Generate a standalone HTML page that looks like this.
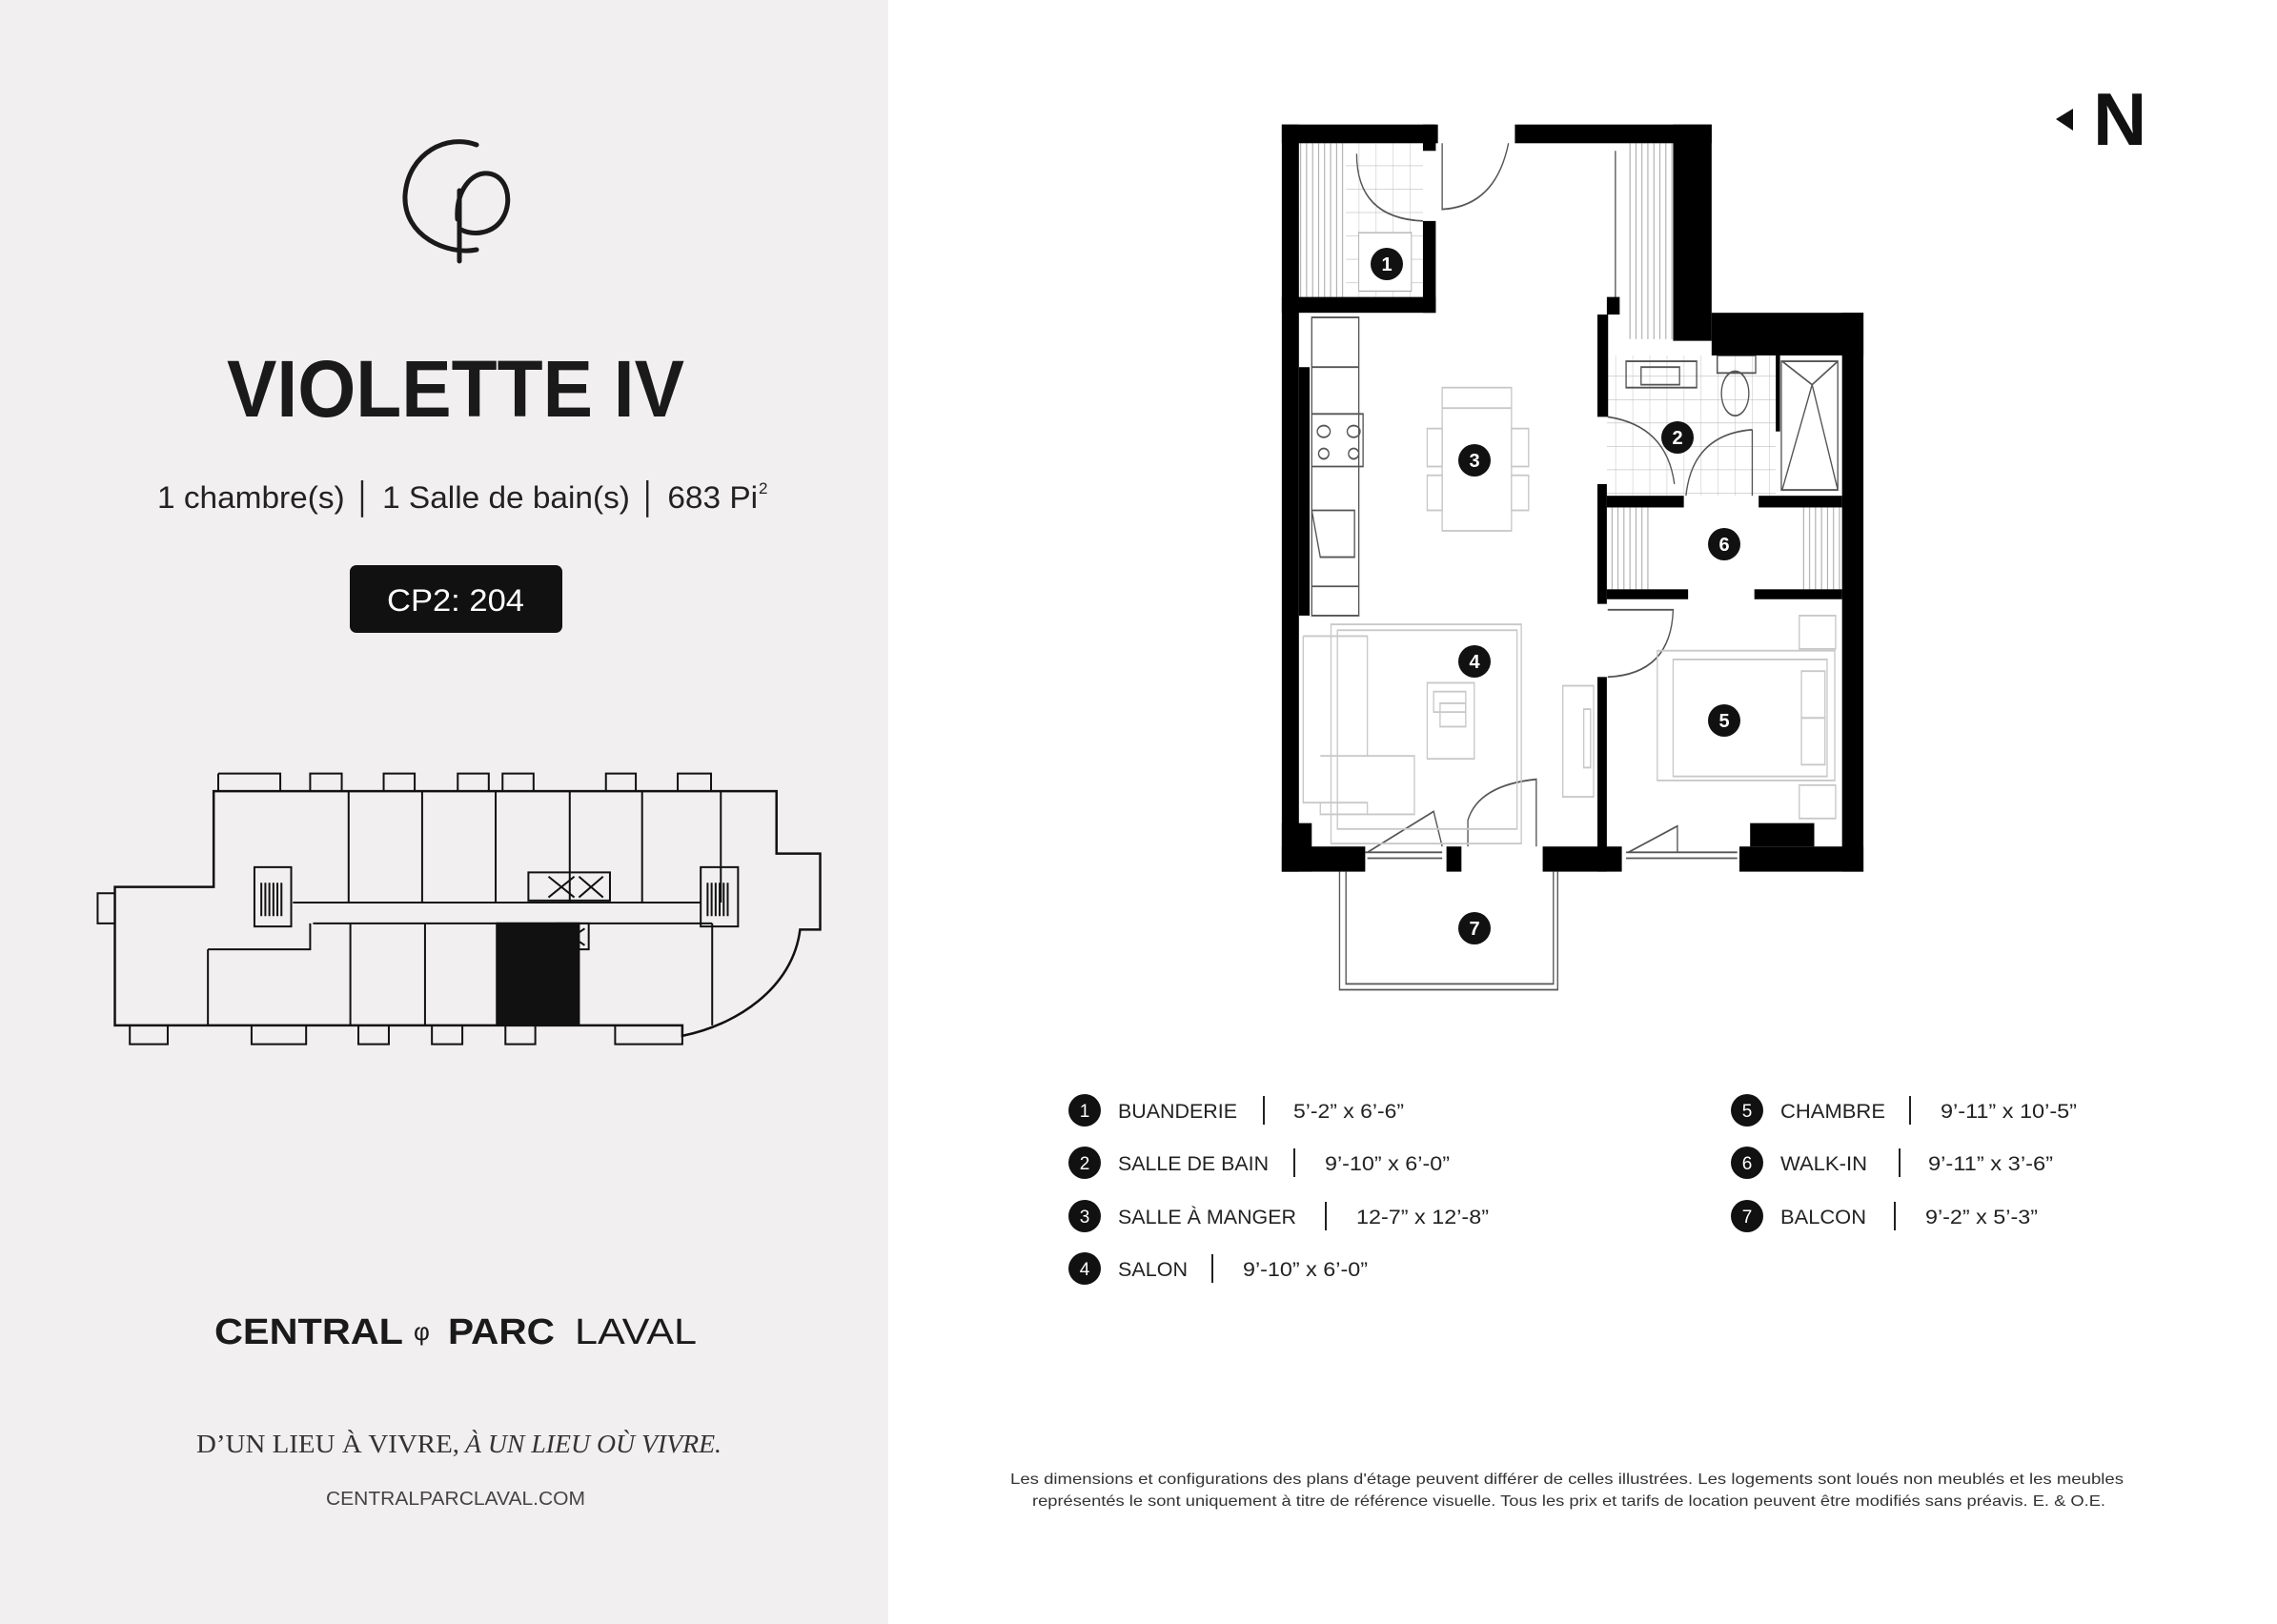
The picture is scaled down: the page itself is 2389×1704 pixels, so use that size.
<!DOCTYPE html>
<html><head><meta charset="utf-8"><style>
html,body{margin:0;padding:0;background:#fff}
svg{display:block}
</style></head><body>
<svg width="2389" height="1704" viewBox="0 0 2389 1704" xmlns="http://www.w3.org/2000/svg" font-family="Liberation Sans, sans-serif">
<defs>
<pattern id="hv" width="14" height="10" patternUnits="userSpaceOnUse"><rect width="14" height="10" fill="#fff"/><line x1="4" y1="0" x2="4" y2="10" stroke="#999" stroke-width="2"/></pattern>
<pattern id="hh" width="10" height="12" patternUnits="userSpaceOnUse"><rect width="10" height="12" fill="#fff"/><line x1="0" y1="4" x2="10" y2="4" stroke="#999" stroke-width="2"/></pattern>
<pattern id="tile" width="40" height="40" patternUnits="userSpaceOnUse"><rect width="40" height="40" fill="#fff"/><path d="M0 0H40M0 0V40" stroke="#bbb" stroke-width="2"/></pattern>
</defs>
<rect width="2389" height="1704" fill="#fff"/>
<rect width="932" height="1704" fill="#f1eff0"/>

<!-- logo -->
<g fill="none" stroke="#1a1a1a" stroke-width="5" stroke-linecap="round">
<path d="M500 152 C470 140 428 160 425 205 C423 248 470 268 500 262"/>
<path d="M480 230 C478 200 495 180 512 182 C532 184 538 210 528 228 C518 246 495 248 482 240"/>
<line x1="482" y1="200" x2="482" y2="274"/>
</g>

<text x="478" y="437" text-anchor="middle" font-size="84" font-weight="bold" fill="#1a1a1a" textLength="480" lengthAdjust="spacingAndGlyphs">VIOLETTE IV</text>
<text x="165" y="533" font-size="32" fill="#222" textLength="630" lengthAdjust="spacingAndGlyphs">1 chambre(s) │ 1 Salle de bain(s) │ 683 Pi</text>
<text x="796" y="518" font-size="17" fill="#222">2</text>
<rect x="367" y="593" width="223" height="71" rx="7" fill="#111"/>
<text x="478" y="641" text-anchor="middle" font-size="32" fill="#fff" textLength="144" lengthAdjust="spacingAndGlyphs">CP2: 204</text>

<!-- key plan -->
<g transform="scale(0.6026,1.0923)" fill="none" stroke="#111" stroke-width="2" vector-effect="non-scaling-stroke">
<g vector-effect="non-scaling-stroke">
<path vector-effect="non-scaling-stroke" d="M372 760 H1352 V820 H1428 V893 H1393 C1380 950 1280 985 1188 995 V985 H362 V985 H200 V852 H372 Z" stroke-width="2.5"/>
<path vector-effect="non-scaling-stroke" d="M170 858 H200 V887 H170 Z"/>
<path vector-effect="non-scaling-stroke" d="M380 743H488V760M380 760V743M540 760V743H595V760M668 760V743H722V760M797 760V743H851V760M875 760V743H929V760M1055 760V743H1107V760M1180 760V743H1238V760"/>
<path vector-effect="non-scaling-stroke" d="M226 985V1003H292V985M438 985V1003H533V985M624 985V1003H677V985M752 985V1003H805V985M880 985V1003H932V985M1071 985V1003H1188V995"/>
<path vector-effect="non-scaling-stroke" d="M510 867H1220M545 887H1240M607 760V867M735 760V867M863 760V867M992 760V867M1118 760V867M1255 760V867M362 912V985M362 912H540V887M610 887V985M740 887V985M865 887V985M1008 887V985M1240 887V985"/>
<path vector-effect="non-scaling-stroke" d="M443 833H507V890H443ZM1220 833H1285V890H1220ZM920 838H1062V865H920ZM968 887H1025V912H968Z"/>
<path vector-effect="non-scaling-stroke" d="M455 848V880M462 848V880M469 848V880M476 848V880M483 848V880M490 848V880M1232 848V880M1239 848V880M1246 848V880M1253 848V880M1260 848V880M1267 848V880M955 842L1000 862M955 862L1000 842M1008 842L1050 862M1008 862L1050 842M975 892L1018 908M975 908L1018 892"/>
</g>
<rect x="865" y="887" width="143" height="98" fill="#111" stroke="#111"/>
</g>

<text x="225" y="1410" font-size="38" font-weight="bold" fill="#1a1a1a" textLength="198" lengthAdjust="spacingAndGlyphs">CENTRAL</text>
<text x="434" y="1406" font-size="26" fill="#1a1a1a">φ</text>
<text x="470" y="1410" font-size="38" font-weight="bold" fill="#1a1a1a" textLength="112" lengthAdjust="spacingAndGlyphs">PARC</text>
<text x="603" y="1410" font-size="38" fill="#1a1a1a" textLength="128" lengthAdjust="spacingAndGlyphs">LAVAL</text>
<text x="206" y="1524" font-family="Liberation Serif, serif" font-size="27" fill="#333" textLength="276" lengthAdjust="spacingAndGlyphs">D’UN LIEU À VIVRE,</text>
<text x="488" y="1524" font-family="Liberation Serif, serif" font-style="italic" font-size="27" fill="#333" textLength="269" lengthAdjust="spacingAndGlyphs">À UN LIEU OÙ VIVRE.</text>
<text x="478" y="1579" text-anchor="middle" font-size="20" fill="#444" textLength="272" lengthAdjust="spacingAndGlyphs">CENTRALPARCLAVAL.COM</text>

<!-- North -->
<polygon points="2175,114 2175,137 2157,125" fill="#111"/>
<text x="2196" y="152" font-size="78" font-weight="bold" fill="#111">N</text>

<!-- floor plan -->
<g transform="translate(1300,100) scale(0.4487,0.6134)">
<rect x="140" y="82" width="290" height="263" fill="url(#tile)"/>
<rect x="140" y="82" width="110" height="263" fill="url(#hv)"/>
<rect x="280" y="235" width="123" height="100" fill="#fff" stroke="#aaa" stroke-width="2"/>
<rect x="905" y="82" width="110" height="335" fill="url(#hv)"/>
<rect x="860" y="445" width="395" height="240" fill="url(#tile)"/>
<rect x="865" y="705" width="95" height="140" fill="url(#hv)"/>
<rect x="1310" y="705" width="100" height="140" fill="url(#hv)"/>
<g fill="none" stroke="#555" stroke-width="3">
<path d="M275 100 Q275 210 430 215"/>
<path d="M475 82V195Q600 190 630 82"/>
<path d="M880 95V365"/>
<path d="M1268 455H1400V675H1268ZM1270 455L1340 495L1400 455M1340 495L1400 675M1340 495L1270 675"/>
<path d="M905 455H1070V500H905ZM940 465H1030V495H940Z"/>
<ellipse cx="1160" cy="510" rx="32" ry="38"/><rect x="1118" y="445" width="90" height="30"/>
<path d="M862 550Q1000 565 1018 665M1200 572V685M1200 572Q1060 580 1045 685"/>
<path d="M862 880H1015Q1010 990 862 995"/>
<path d="M170 380H280V465H170ZM170 465H280V890H170ZM170 545H290V635H170ZM170 710H270V790H190ZM170 840H280V890"/>
<ellipse cx="198" cy="575" rx="15" ry="10"/><ellipse cx="268" cy="575" rx="15" ry="10"/><ellipse cx="198" cy="613" rx="12" ry="9"/><ellipse cx="268" cy="613" rx="12" ry="9"/>
<path d="M295 1295H475M300 1305H475M300 1295L455 1225L475 1285M905 1295H1165M905 1305H1165M910 1295L1025 1250V1295"/>
<path d="M535 1285V1240Q560 1180 695 1170V1285"/>
<path d="M235 1328V1530H745V1328M250 1328V1520H735V1328"/>
</g>
<g fill="none" stroke="#c8c8c8" stroke-width="3">
<rect x="475" y="500" width="162" height="245"/><path d="M475 535H637"/>
<rect x="440" y="570" width="35" height="65"/><rect x="440" y="650" width="35" height="60"/><rect x="637" y="570" width="40" height="65"/><rect x="637" y="650" width="40" height="60"/>
<rect x="215" y="905" width="445" height="375"/><rect x="230" y="915" width="420" height="340"/>
<path d="M150 925H300V1130H410V1230H190V1210H300V1230M150 925V1210H190M190 1130H300"/>
<rect x="440" y="1005" width="110" height="130"/><rect x="455" y="1020" width="75" height="35"/><rect x="470" y="1040" width="60" height="40"/>
<rect x="757" y="1010" width="72" height="190"/><rect x="806" y="1050" width="16" height="100"/>
<rect x="978" y="950" width="415" height="222"/><rect x="1015" y="965" width="360" height="200"/>
<rect x="1310" y="890" width="85" height="57"/><rect x="1310" y="1180" width="85" height="57"/>
<rect x="1315" y="985" width="55" height="80"/><rect x="1315" y="1065" width="55" height="80"/>
</g>
<g fill="#000">
<rect x="100" y="50" width="365" height="32"/>
<rect x="645" y="50" width="460" height="32"/>
<rect x="100" y="50" width="40" height="1278"/>
<rect x="1015" y="50" width="90" height="370"/>
<rect x="860" y="345" width="30" height="30"/>
<rect x="838" y="375" width="25" height="175"/>
<rect x="1105" y="372" width="355" height="73"/>
<rect x="1410" y="372" width="50" height="956"/>
<rect x="100" y="1285" width="195" height="43"/>
<rect x="485" y="1285" width="35" height="43"/>
<rect x="710" y="1285" width="185" height="43"/>
<rect x="1170" y="1285" width="290" height="43"/>
<rect x="100" y="1245" width="70" height="83"/>
<rect x="1195" y="1245" width="150" height="40"/>
<rect x="100" y="345" width="360" height="27"/>
<rect x="430" y="50" width="30" height="45"/>
<rect x="430" y="215" width="30" height="157"/>
<rect x="140" y="465" width="25" height="425"/>
<rect x="838" y="665" width="22" height="205"/>
<rect x="838" y="995" width="22" height="333"/>
<rect x="860" y="685" width="180" height="20"/>
<rect x="1215" y="685" width="195" height="20"/>
<rect x="860" y="845" width="190" height="17"/>
<rect x="1205" y="845" width="205" height="17"/>
<rect x="1255" y="445" width="10" height="130"/>
</g>
</g>

<!-- room numbers -->
<g font-size="20" font-weight="bold" fill="#fff" text-anchor="middle">
<circle cx="1455" cy="277" r="17" fill="#111"/><text x="1455" y="284">1</text>
<circle cx="1760" cy="459" r="17" fill="#111"/><text x="1760" y="466">2</text>
<circle cx="1547" cy="483" r="17" fill="#111"/><text x="1547" y="490">3</text>
<circle cx="1547" cy="694" r="17" fill="#111"/><text x="1547" y="701">4</text>
<circle cx="1809" cy="756" r="17" fill="#111"/><text x="1809" y="763">5</text>
<circle cx="1809" cy="571" r="17" fill="#111"/><text x="1809" y="578">6</text>
<circle cx="1547" cy="974" r="17" fill="#111"/><text x="1547" y="981">7</text>
</g>

<!-- legend -->
<g font-size="21" fill="#222">
<g fill="#111"><circle cx="1138" cy="1165" r="17"/><circle cx="1138" cy="1220" r="17"/><circle cx="1138" cy="1276" r="17"/><circle cx="1138" cy="1331" r="17"/><circle cx="1833" cy="1165" r="17"/><circle cx="1833" cy="1220" r="17"/><circle cx="1833" cy="1276" r="17"/></g>
<g fill="#fff" text-anchor="middle" font-size="19"><text x="1138" y="1172">1</text><text x="1138" y="1227">2</text><text x="1138" y="1283">3</text><text x="1138" y="1338">4</text><text x="1833" y="1172">5</text><text x="1833" y="1227">6</text><text x="1833" y="1283">7</text></g>
<text x="1173" y="1173" textLength="125" lengthAdjust="spacingAndGlyphs">BUANDERIE</text>
<text x="1173" y="1228" textLength="158" lengthAdjust="spacingAndGlyphs">SALLE DE BAIN</text>
<text x="1173" y="1284" textLength="187" lengthAdjust="spacingAndGlyphs">SALLE À MANGER</text>
<text x="1173" y="1339" textLength="73" lengthAdjust="spacingAndGlyphs">SALON</text>
<text x="1868" y="1173" textLength="110" lengthAdjust="spacingAndGlyphs">CHAMBRE</text>
<text x="1868" y="1228" textLength="91" lengthAdjust="spacingAndGlyphs">WALK-IN</text>
<text x="1868" y="1284" textLength="90" lengthAdjust="spacingAndGlyphs">BALCON</text>
<text x="1357" y="1173" textLength="116" lengthAdjust="spacingAndGlyphs">5’-2” x 6’-6”</text>
<text x="1390" y="1228" textLength="131" lengthAdjust="spacingAndGlyphs">9’-10” x 6’-0”</text>
<text x="1423" y="1284" textLength="139" lengthAdjust="spacingAndGlyphs">12-7” x 12’-8”</text>
<text x="1304" y="1339" textLength="131" lengthAdjust="spacingAndGlyphs">9’-10” x 6’-0”</text>
<text x="2036" y="1173" textLength="143" lengthAdjust="spacingAndGlyphs">9’-11” x 10’-5”</text>
<text x="2023" y="1228" textLength="131" lengthAdjust="spacingAndGlyphs">9’-11” x 3’-6”</text>
<text x="2020" y="1284" textLength="118" lengthAdjust="spacingAndGlyphs">9’-2” x 5’-3”</text>
<g stroke="#222" stroke-width="2">
<line x1="1326" y1="1150" x2="1326" y2="1180"/><line x1="1358" y1="1205" x2="1358" y2="1235"/><line x1="1391" y1="1261" x2="1391" y2="1291"/><line x1="1272" y1="1316" x2="1272" y2="1346"/>
<line x1="2004" y1="1150" x2="2004" y2="1180"/><line x1="1993" y1="1205" x2="1993" y2="1235"/><line x1="1988" y1="1261" x2="1988" y2="1291"/>
</g>
</g>

<g font-size="16" fill="#333" text-anchor="middle">
<text x="1644" y="1557" textLength="1168" lengthAdjust="spacingAndGlyphs">Les dimensions et configurations des plans d'étage peuvent différer de celles illustrées. Les logements sont loués non meublés et les meubles</text>
<text x="1646" y="1580" textLength="1126" lengthAdjust="spacingAndGlyphs">représentés le sont uniquement à titre de référence visuelle. Tous les prix et tarifs de location peuvent être modifiés sans préavis. E. &amp; O.E.</text>
</g>
</svg>
</body></html>
